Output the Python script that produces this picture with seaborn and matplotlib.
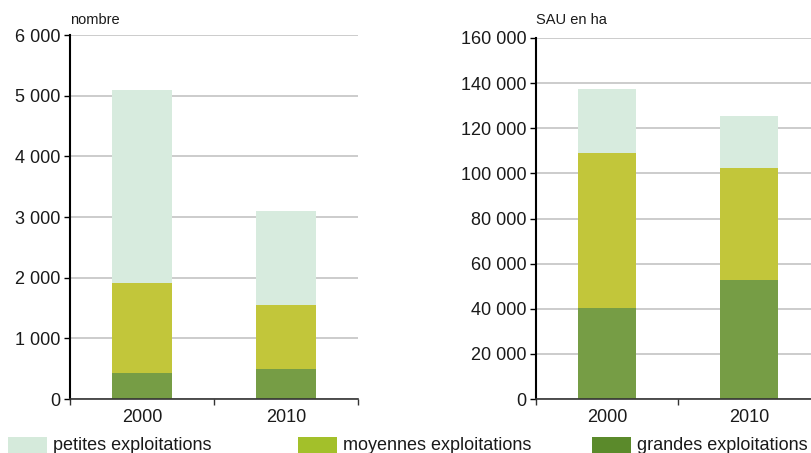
import matplotlib
matplotlib.use("Agg")
import matplotlib.pyplot as plt
import seaborn as sns
import pandas as pd
import numpy as np
from matplotlib.ticker import FuncFormatter, FixedLocator

years = ["2000", "2010"]
categories = ["petites exploitations", "moyennes exploitations", "grandes exploitations"]

# left: number of farms
nb_petites = [3180, 1550]
nb_moyennes = [1480, 1055]
nb_grandes = [430, 495]

# right: SAU in ha
sau_petites = [28500, 23200]
sau_moyennes = [68500, 49600]
sau_grandes = [40500, 52800]

bar_colors = {"petites exploitations": "#d7ebde",
              "moyennes exploitations": "#c2c63a",
              "grandes exploitations": "#769d45"}
legend_colors = {"petites exploitations": "#d5eadb",
                 "moyennes exploitations": "#a3c02a",
                 "grandes exploitations": "#5b8a2b"}

sns.set_theme(style="white")
plt.rcParams["font.family"] = ["Liberation Sans", "DejaVu Sans"]

fig = plt.figure(figsize=(8.11, 4.53), dpi=100)
W, H = 811, 453
axL = fig.add_axes([70 / W, (H - 399) / H, (358 - 70) / W, (399 - 35) / H])
axR = fig.add_axes([536 / W, (H - 399) / H, (820 - 536) / W, (399 - 38) / H])

fmt = FuncFormatter(lambda v, p: f"{int(v):,}".replace(",", " "))
FS = 13


def draw(ax, petites, moyennes, grandes, ymax, step, ylabel, xlab):
    df = pd.DataFrame({"year": years,
                       "grandes": grandes,
                       "moyennes": moyennes,
                       "petites": petites})
    df["c_grandes"] = df["grandes"]
    df["c_moyennes"] = df["grandes"] + df["moyennes"]
    df["c_petites"] = df["c_moyennes"] + df["petites"]
    for col, cat in [("c_petites", "petites exploitations"),
                     ("c_moyennes", "moyennes exploitations"),
                     ("c_grandes", "grandes exploitations")]:
        sns.barplot(data=df, x="year", y=col, color=bar_colors[cat], width=0.41,
                    saturation=1, ax=ax, zorder=3, linewidth=0, errorbar=None)
    ax.set_xlim(-0.5, 1.5)
    ax.set_ylim(0, ymax)
    ax.set_yticks(np.arange(0, ymax + 1, step))
    ax.yaxis.set_major_formatter(fmt)
    ax.set_xlabel("")
    ax.set_ylabel("")
    ax.grid(axis="y", color="#c8c8c8", linewidth=1.3, zorder=0)
    ax.set_axisbelow(True)
    for s in ["top", "right"]:
        ax.spines[s].set_visible(False)
    ax.spines["left"].set_color("black")
    ax.spines["left"].set_linewidth(1.5)
    ax.spines["left"].set_zorder(5)
    ax.spines["bottom"].set_color("#333333")
    ax.spines["bottom"].set_linewidth(1.2)
    ax.spines["bottom"].set_zorder(5)
    ax.tick_params(axis="y", which="major", left=True, length=4, width=1,
                   color="black", labelsize=FS, pad=3, labelcolor="#1a1a1a")
    ax.tick_params(axis="x", which="major", bottom=False, labelsize=FS,
                   pad=1, labelcolor="#1a1a1a")
    ax.xaxis.set_minor_locator(FixedLocator([-0.5, 0.5, 1.5]))
    ax.tick_params(axis="x", which="minor", bottom=True, length=4, width=1,
                   color="#333333")
    fig.text(xlab / W, (H - 27) / H, ylabel, fontsize=10.5,
             ha="left", va="bottom", color="#1a1a1a")


draw(axL, nb_petites, nb_moyennes, nb_grandes, 6000, 1000, "nombre", 70)
draw(axR, sau_petites, sau_moyennes, sau_grandes, 160000, 20000, "SAU en ha", 536)

# legend
legend_x = [8, 298, 592]
for cat, x0 in zip(categories, legend_x):
    fig.patches.append(plt.Rectangle((x0 / W, 0), 39 / W, (453 - 437) / H,
                                     transform=fig.transFigure,
                                     facecolor=legend_colors[cat],
                                     edgecolor="none"))
    fig.text((x0 + 45) / W, (453 - 445) / H, cat, fontsize=FS,
             ha="left", va="center", color="#1a1a1a")

fig.savefig("out.png", dpi=100)
